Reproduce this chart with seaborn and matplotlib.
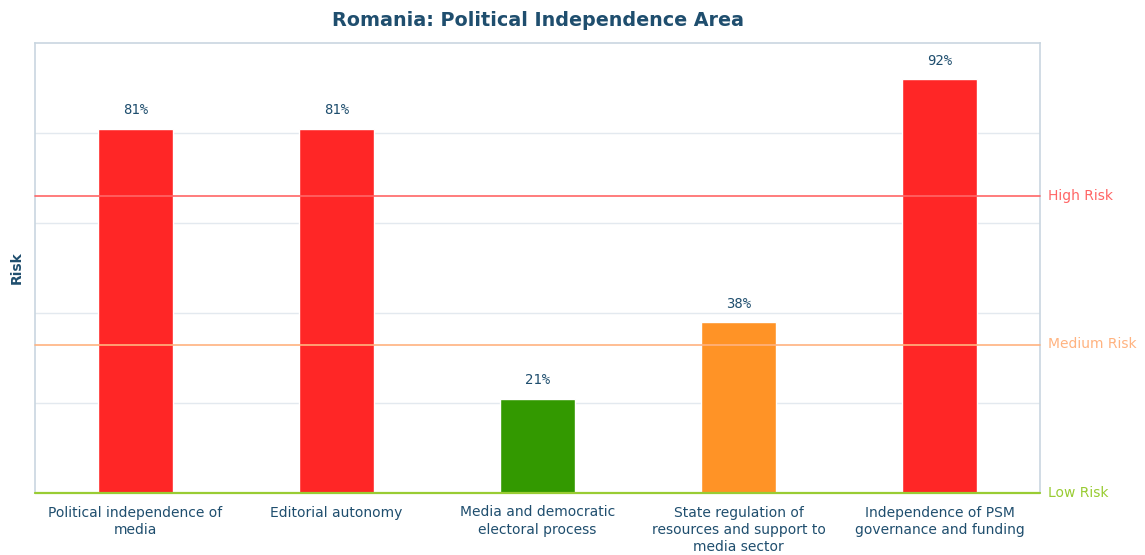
import matplotlib
matplotlib.use("Agg")
import matplotlib.pyplot as plt
import seaborn as sns
import pandas as pd

categories = [
    "Political independence of\nmedia",
    "Editorial autonomy",
    "Media and democratic\nelectoral process",
    "State regulation of\nresources and support to\nmedia sector",
    "Independence of PSM\ngovernance and funding",
]
values = [81, 81, 21, 38, 92]
bar_colors = ["#FF2626", "#FF2626", "#339900", "#FF9326", "#FF2626"]
risk_levels = [0, 33, 66]
risk_labels = ["Low Risk", "Medium Risk", "High Risk"]
risk_colors = ["#99CC33", "#FFB380", "#FF6666"]
title = "Romania: Political Independence Area"
ylabel = "Risk"

text_color = "#1F4E6E"

sns.set_theme(style="white")
plt.rcParams['font.family'] = ['DejaVu Sans']

fig = plt.figure(figsize=(11.45, 5.55), dpi=100)
ax = fig.add_axes([35/1145, 1-493/555, (1040-35)/1145, (493-43)/555])

df = pd.DataFrame({"cat": categories, "val": values})
sns.barplot(data=df, x="cat", y="val", hue="cat", palette=bar_colors,
            legend=False, width=0.37, ax=ax, saturation=1)

ax.set_ylim(0, 100)
ax.set_xlim(-0.5, len(categories) - 0.5)
ax.set_yticks([20, 40, 60, 80])
ax.yaxis.grid(True, color="#E3E9EF", linewidth=1)
ax.set_axisbelow(True)
ax.tick_params(axis="y", left=False, labelleft=False)
ax.tick_params(axis="x", bottom=False, labelsize=10, labelcolor=text_color, pad=3)
for lbl in ax.get_xticklabels():
    lbl.set_linespacing(1.3)

for s in ["left", "top", "right"]:
    ax.spines[s].set_color("#C9D6E0")
    ax.spines[s].set_linewidth(1.2)
ax.spines["bottom"].set_visible(False)

for lvl, lab, col in zip(risk_levels, risk_labels, risk_colors):
    ax.axhline(lvl, color=col, linewidth=1.2 if lvl else 1.6, zorder=3, clip_on=False)
    ax.text(1.008, lvl, lab, transform=ax.get_yaxis_transform(), color=col,
            fontsize=10, va="center", ha="left")

for i, v in enumerate(values):
    ax.text(i, v + 2.5, f"{v}%", ha="center", va="bottom", fontsize=10,
            color=text_color, family="DejaVu Sans Mono")

ax.set_xlabel("")
ax.set_ylabel(ylabel, fontsize=10, fontweight="bold", color=text_color, labelpad=8)
ax.set_title(title, fontsize=13.8, fontweight="bold", color=text_color, pad=12)

fig.savefig("out.png", dpi=100)
